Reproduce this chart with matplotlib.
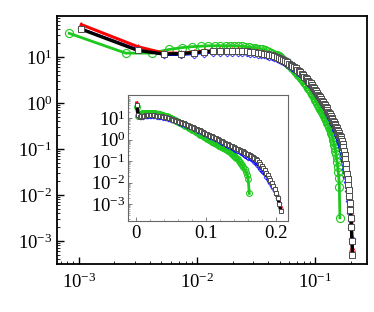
import numpy as np
import matplotlib
matplotlib.use("Agg")
import matplotlib.pyplot as plt
from matplotlib.ticker import LogLocator, NullFormatter, FixedLocator

plt.rcParams["font.family"] = "Liberation Serif"
plt.rcParams["mathtext.fontset"] = "custom"
plt.rcParams["mathtext.rm"] = "Liberation Serif"
plt.rcParams["mathtext.it"] = "Liberation Serif:italic"
plt.rcParams["axes.unicode_minus"] = False

# bin centres (same grid for black, red, blue)
x_bins = [0.00105, 0.00315, 0.00525, 0.00735, 0.00945, 0.01155, 0.01365, 0.01575, 0.01785, 0.01995,
          0.02205, 0.02415, 0.02625, 0.02835, 0.03045, 0.03255, 0.03465, 0.03675, 0.03885, 0.04095,
          0.04305, 0.04515, 0.04725, 0.04935, 0.05145, 0.05355, 0.05565, 0.05775, 0.05985, 0.06195,
          0.06405, 0.06615, 0.06825, 0.07035, 0.07245, 0.07455, 0.07665, 0.07875, 0.08085, 0.08295,
          0.08505, 0.08715, 0.08925, 0.09135, 0.09345, 0.09555, 0.09765, 0.09975, 0.10185, 0.10395,
          0.10605, 0.10815, 0.11025, 0.11235, 0.11445, 0.11655, 0.11865, 0.12075, 0.12285, 0.12495,
          0.12705, 0.12915, 0.13125, 0.13335, 0.13545, 0.13755, 0.13965, 0.14175, 0.14385, 0.14595,
          0.14805, 0.15015, 0.15225, 0.15435, 0.15645, 0.15855, 0.16065, 0.16275, 0.16485, 0.16695,
          0.16905, 0.17115, 0.17325, 0.17535, 0.17745, 0.17955, 0.18165, 0.18375, 0.18585, 0.18795,
          0.19005, 0.19215, 0.19425, 0.19635, 0.19845, 0.20055, 0.20265, 0.20475, 0.20685]

# log10 of the pdf
black_log = [1.60, 1.14, 1.06, 1.07, 1.09, 1.11, 1.12, 1.13, 1.13, 1.13,
             1.13, 1.12, 1.12, 1.11, 1.10, 1.09, 1.08, 1.07, 1.06, 1.04,
             1.03, 1.01, 0.99, 0.97, 0.95, 0.93, 0.90, 0.88, 0.85, 0.83,
             0.80, 0.78, 0.75, 0.72, 0.69, 0.66, 0.63, 0.60, 0.57, 0.54,
             0.51, 0.48, 0.45, 0.42, 0.38, 0.35, 0.32, 0.28, 0.25, 0.22,
             0.18, 0.15, 0.12, 0.08, 0.05, 0.02, -0.02, -0.05, -0.09, -0.12,
             -0.15, -0.19, -0.22, -0.25, -0.29, -0.32, -0.35, -0.39, -0.42, -0.45,
             -0.49, -0.52, -0.55, -0.59, -0.62, -0.65, -0.69, -0.72, -0.75, -0.79,
             -0.84, -0.90, -0.97, -1.05, -1.13, -1.22, -1.32, -1.43, -1.54, -1.66,
             -1.78, -1.90, -2.03, -2.17, -2.32, -2.50, -2.70, -3.00, -3.30]

red_log = [1.70, 1.22, 1.08, 1.08, 1.10, 1.12, 1.13, 1.14, 1.14, 1.14,
           1.14, 1.13, 1.13, 1.12, 1.11, 1.10, 1.09, 1.08, 1.07, 1.05,
           1.04, 1.02, 1.00, 0.98, 0.96, 0.94, 0.91, 0.89, 0.86, 0.84,
           0.81, 0.79, 0.76, 0.73, 0.70, 0.67, 0.64, 0.61, 0.58, 0.55,
           0.52, 0.49, 0.46, 0.43, 0.39, 0.36, 0.33, 0.29, 0.26, 0.23,
           0.19, 0.16, 0.13, 0.09, 0.06, 0.03, -0.01, -0.04, -0.08, -0.11,
           -0.14, -0.18, -0.21, -0.24, -0.28, -0.31, -0.34, -0.38, -0.41, -0.44,
           -0.48, -0.51, -0.54, -0.58, -0.61, -0.64, -0.68, -0.71, -0.74, -0.78,
           -0.83, -0.89, -0.96, -1.04, -1.12, -1.21, -1.31, -1.42, -1.53, -1.65,
           -1.77, -1.89, -2.02, -2.16, -2.30, -2.45, -2.62, -2.95, -3.15]

blue_log = [1.62, 1.17, 1.03, 1.03, 1.05, 1.07, 1.08, 1.09, 1.09, 1.09,
            1.09, 1.08, 1.08, 1.07, 1.06, 1.05, 1.04, 1.03, 1.02, 1.00,
            0.99, 0.97, 0.95, 0.93, 0.91, 0.89, 0.86, 0.84, 0.81, 0.79,
            0.76, 0.74, 0.71, 0.68, 0.65, 0.62, 0.59, 0.56, 0.53, 0.50,
            0.47, 0.44, 0.41, 0.38, 0.34, 0.31, 0.28, 0.24, 0.21, 0.18,
            0.14, 0.12, 0.08, 0.04, 0.01, -0.03, -0.07, -0.10, -0.14, -0.18,
            -0.21, -0.25, -0.29, -0.32, -0.36, -0.40, -0.43, -0.47, -0.51, -0.55,
            -0.59, -0.62, -0.66, -0.71, -0.75, -0.79, -0.84, -0.88, -0.92, -0.97,
            -1.04, -1.11, -1.19, -1.27, -1.35, -1.44, -1.53, -1.62, -1.72, -1.82,
            -1.92, -2.03, -2.14, -2.26, -2.40, -2.55, -2.72, -2.95]

# green series uses its own bins
x_green = [0.00083, 0.00249, 0.00415, 0.00581, 0.00747, 0.00913, 0.01079, 0.01245, 0.01411, 0.01577,
           0.01743, 0.01909, 0.02075, 0.02241, 0.02407, 0.02573, 0.02739, 0.02905, 0.03071, 0.03237,
           0.03403, 0.03569, 0.03735, 0.03901, 0.04067, 0.04233, 0.04399, 0.04565, 0.04731, 0.04897,
           0.05063, 0.05229, 0.05395, 0.05561, 0.05727, 0.05893, 0.06059, 0.06225, 0.06391, 0.06557,
           0.06723, 0.06889, 0.07055, 0.07221, 0.07387, 0.07553, 0.07719, 0.07885, 0.08051, 0.08217,
           0.08383, 0.08549, 0.08715, 0.08881, 0.09047, 0.09213, 0.09379, 0.09545, 0.09711, 0.09877,
           0.10043, 0.10209, 0.10375, 0.10541, 0.10707, 0.10873, 0.11039, 0.11205, 0.11371, 0.11537,
           0.11703, 0.11869, 0.12035, 0.12201, 0.12367, 0.12533, 0.12699, 0.12865, 0.13031, 0.13197,
           0.13363, 0.13529, 0.13695, 0.13861, 0.14027, 0.14193, 0.14359, 0.14525, 0.14691, 0.14857,
           0.15023, 0.15189, 0.15355, 0.15521, 0.15687, 0.15853, 0.16019, 0.16185]
green_log = [1.51, 1.08, 1.08, 1.16, 1.20, 1.22, 1.23, 1.24, 1.24, 1.24,
             1.24, 1.24, 1.24, 1.23, 1.23, 1.22, 1.21, 1.20, 1.19, 1.18,
             1.17, 1.16, 1.15, 1.13, 1.11, 1.09, 1.07, 1.05, 1.03, 1.01,
             0.99, 0.96, 0.93, 0.91, 0.88, 0.85, 0.82, 0.79, 0.76, 0.73,
             0.70, 0.67, 0.64, 0.61, 0.58, 0.55, 0.52, 0.49, 0.46, 0.43,
             0.40, 0.37, 0.33, 0.30, 0.27, 0.23, 0.20, 0.16, 0.13, 0.10,
             0.06, 0.03, 0.00, -0.04, -0.07, -0.10, -0.13, -0.16, -0.19, -0.22,
             -0.25, -0.28, -0.31, -0.34, -0.37, -0.40, -0.43, -0.46, -0.49, -0.53,
             -0.57, -0.61, -0.65, -0.70, -0.75, -0.80, -0.86, -0.92, -0.98, -1.05,
             -1.12, -1.20, -1.29, -1.39, -1.50, -1.63, -1.82, -2.50]

GREEN = "#1ec81e"


def draw(ax, k):
    ax.plot(x_green, 10.0 ** np.array(green_log), color=GREEN, lw=2.0, marker="o",
            ms=5.8 * k, mfc="none", mec=GREEN, mew=0.8)
    ax.plot(x_bins[:len(blue_log)], 10.0 ** np.array(blue_log), color="blue", lw=0.8, marker="D",
            ms=3.5 * k, mfc="none", mec="blue", mew=0.5)
    ax.plot(x_bins, 10.0 ** np.array(red_log), color="red", lw=2.2, marker="^",
            ms=4.2 * k, mfc="none", mec="red", mew=0.5)
    ax.plot(x_bins, 10.0 ** np.array(black_log), color="black", lw=2.4, marker="s",
            ms=5.0 * k, mfc="white", mec="0.3", mew=0.7)


fig = plt.figure(figsize=(3.74, 3.12), dpi=100)
ax = fig.add_axes([0.1516, 0.1529, 0.8289, 0.7958])
draw(ax, 1.0)
ax.set_xscale("log")
ax.set_yscale("log")
ax.set_xlim(6.5e-4, 0.273)
ax.set_ylim(3.1e-4, 77)
ax.tick_params(which="both", direction="in", top=False, right=False, labelsize=13.5)
ax.tick_params(which="major", length=5, width=1.0)
ax.tick_params(which="minor", length=2.5, width=0.6)
ax.yaxis.set_minor_locator(LogLocator(base=10, subs=np.arange(2, 10), numticks=20))
ax.yaxis.set_minor_formatter(NullFormatter())
ax.xaxis.set_minor_locator(LogLocator(base=10, subs=np.arange(2, 10), numticks=20))
ax.xaxis.set_minor_formatter(NullFormatter())
ax.tick_params(axis="x", pad=6)
ax.tick_params(axis="y", pad=3)
for s in ax.spines.values():
    s.set_linewidth(1.3)

# inset
axi = fig.add_axes([0.343, 0.2926, 0.426, 0.4029])
draw(axi, 0.72)
axi.set_yscale("log")
axi.set_xlim(-0.011, 0.2166)
axi.set_ylim(1.7e-4, 117)
axi.xaxis.set_major_locator(FixedLocator([0, 0.1, 0.2]))
axi.set_xticklabels(["0", "0.1", "0.2"])
axi.yaxis.set_major_locator(FixedLocator([1e-3, 1e-2, 1e-1, 1, 10]))
axi.yaxis.set_minor_locator(LogLocator(base=10, subs=np.arange(2, 10), numticks=20))
axi.yaxis.set_minor_formatter(NullFormatter())
axi.xaxis.set_minor_locator(FixedLocator([0.02, 0.04, 0.06, 0.08, 0.12, 0.14, 0.16, 0.18]))
axi.tick_params(which="both", direction="in", top=False, right=False, labelsize=13.5,
                color="0.4")
axi.tick_params(which="major", length=3, width=0.6)
axi.tick_params(which="minor", length=1.5, width=0.4)
axi.tick_params(axis="y", pad=2)
axi.tick_params(axis="x", pad=3)
for s in axi.spines.values():
    s.set_linewidth(0.8)
    s.set_edgecolor("0.4")

fig.savefig("out.png", dpi=100)
